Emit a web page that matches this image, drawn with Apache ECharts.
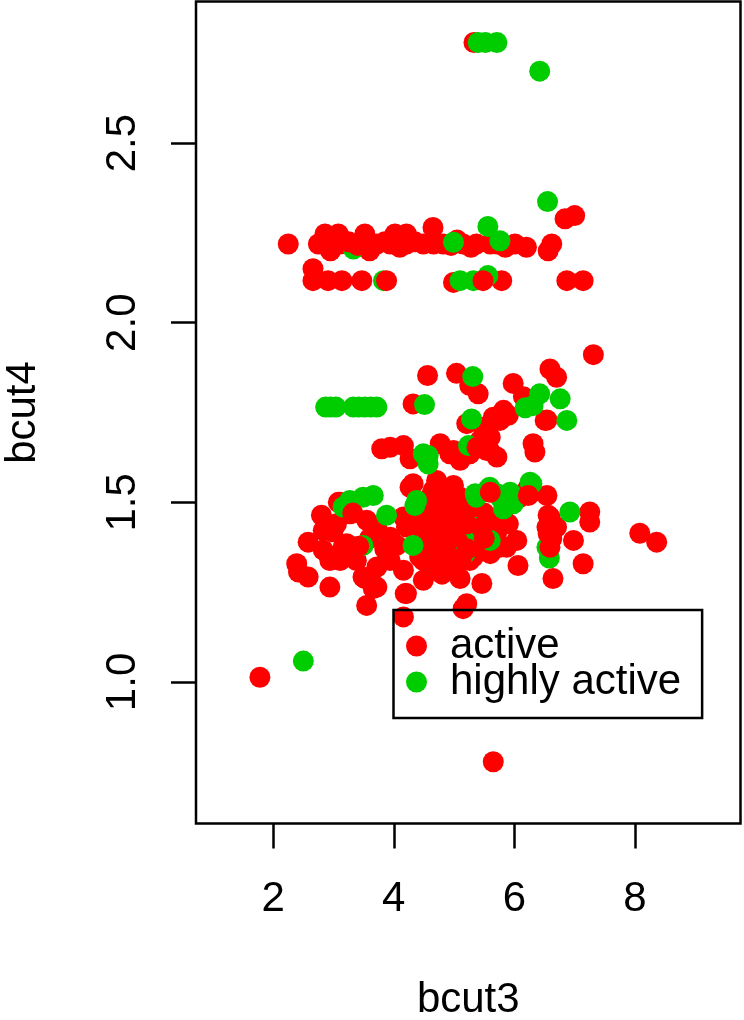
<!DOCTYPE html>
<html>
<head>
<meta charset="utf-8">
<script src="https://cdn.jsdelivr.net/npm/echarts@6/dist/echarts.min.js"></script>
<style>
html,body{margin:0;padding:0;background:#fff;}
#chart{width:744px;height:1020px;}
</style>
</head>
<body>
<div id="chart"></div>
<script>
// ---- data (bcut3, bcut4) ----
const seriesNames = ['active', 'highly active'];
const xTicks = [2, 4, 6, 8];
const yTicks = [1.0, 1.5, 2.0, 2.5];

// "active" points drawn beneath the "highly active" points
const activeLower = [
  [2.25,2.219],[2.75,2.219],[2.89,2.219],[2.86,2.247],[3.08,2.247],[3.11,2.219],[3.52,2.247],[3.55,2.219],
  [3.72,2.219],[3.94,2.219],[4.02,2.247],[4.21,2.247],[4.21,2.219],[4.49,2.219],[4.65,2.265],[4.66,2.219],
  [4.82,2.219],[5.15,2.219],[5.37,2.219],[5.60,2.219],[5.71,2.219],[6.01,2.219],[6.20,2.21],[6.56,2.20],
  [6.62,2.219],[6.84,2.289],[7.00,2.298],[3.85,2.225],[4.10,2.21],[4.35,2.225],[4.95,2.215],[5.05,2.23],
  [5.28,2.21],[5.85,2.21],[2.95,2.20],[3.60,2.20],
  [2.66,2.15],[2.66,2.117],[2.91,2.117],[3.14,2.117],[3.47,2.117],[4.99,2.112],[5.79,2.117],[6.87,2.117],[7.14,2.117],
  [5.33,2.78],
  [7.31,1.911],[4.56,1.853],[5.04,1.859],[5.26,1.825],[5.40,1.802],[5.98,1.831],[6.59,1.871],[6.70,1.848],
  [6.51,1.728],[6.26,1.774],[4.32,1.774],[5.82,1.756],[5.65,1.737],[5.48,1.709],[5.60,1.681],[5.90,1.742],
  [5.43,1.672],[5.21,1.719],[3.80,1.649],[3.94,1.653],[4.16,1.658],[4.27,1.621],[4.77,1.663],[4.93,1.635],
  [5.10,1.626],[5.26,1.635],[5.71,1.626],[5.54,1.644],[6.31,1.663],[6.34,1.64],[5.59,1.644],[5.10,1.617],
  [6.15,1.794],[6.54,1.729],[4.99,1.644],[5.76,1.728],
  [4.27,1.542],[4.32,1.552],[4.71,1.561],[4.99,1.547],[4.65,1.533],[4.93,1.533],[5.56,1.535],[6.21,1.535],
  [6.54,1.519],[6.26,1.524],[4.60,1.514],[6.09,1.514],[5.10,1.514],
  [3.11,1.50],[3.08,1.50],[2.80,1.464],[2.58,1.389],[2.39,1.329],[2.42,1.306],[2.58,1.292],[2.94,1.264],
  [2.94,1.338],[3.16,1.375],[3.49,1.292],[3.72,1.264],[3.55,1.213],[4.21,1.246],[2.83,1.422],[3.05,1.44],
  [3.27,1.468],[3.94,1.403],[3.94,1.338],[4.49,1.338],[4.82,1.375],[4.93,1.338],[3.66,1.26],[3.52,1.288],
  [3.72,1.431],[4.21,1.431],[4.16,1.311],[3.72,1.32],[3.22,1.385],[3.38,1.338],[3.11,1.338],[4.16,1.459],
  [2.99,1.418],[2.83,1.367],[3.55,1.45],[3.85,1.37],[4.05,1.38],[3.60,1.40],
  [4.16,1.181],[4.19,1.246],[4.49,1.283],[5.10,1.288],[5.46,1.274],[5.15,1.204],[5.21,1.218],[6.64,1.288],
  [6.06,1.324],[7.14,1.329],[6.98,1.394],[8.08,1.414],[8.36,1.389],[7.25,1.473],[7.25,1.445],[6.56,1.464],
  [6.70,1.431],[6.62,1.399],[6.04,1.394],[5.79,1.436],[5.87,1.375],[5.32,1.348],[5.60,1.357],
  [5.10,1.366],[6.54,1.431],[6.59,1.459],
  [4.93,1.496],[4.60,1.468],[4.82,1.431],[4.43,1.431],[4.21,1.45],[5.04,1.403],[4.71,1.375],[4.43,1.348],
  [4.99,1.348],[5.26,1.338],[5.65,1.45],[5.54,1.422],[5.76,1.375],[5.21,1.478],[4.75,1.50],
  [4.85,1.46],[4.55,1.40],[4.65,1.42],[4.95,1.42],[5.05,1.46],[5.15,1.43],[4.75,1.35],[4.60,1.32],[4.80,1.30],
  [5.00,1.31],[4.40,1.48],[5.45,1.38],[5.30,1.39],[5.20,1.36],[4.90,1.39],[4.50,1.37],[4.70,1.45],[5.50,1.47],
  [5.70,1.41],[5.90,1.44],
  [1.78,1.013],[5.65,0.778]
];

// "highly active" points
const highlyActive = [
  [5.40,2.78],[5.52,2.78],[5.71,2.78],[6.42,2.70],[6.55,2.337],[5.56,2.268],[4.99,2.224],[5.76,2.228],
  [3.33,2.205],[3.83,2.117],[5.10,2.117],[5.32,2.117],[5.56,2.131],
  [5.31,1.85],[6.42,1.802],[6.31,1.769],[6.76,1.788],[6.87,1.728],[6.18,1.763],
  [2.87,1.765],[2.95,1.765],[3.04,1.765],[3.33,1.765],[3.42,1.765],[3.52,1.765],[3.62,1.765],[3.72,1.765],
  [4.51,1.772],[5.29,1.732],[4.57,1.63],[4.57,1.607],[5.24,1.658],[4.49,1.635],
  [6.26,1.556],[5.93,1.528],[5.35,1.524],[4.38,1.505],[3.16,1.487],[3.49,1.514],[3.66,1.519],[3.88,1.464],
  [3.49,1.38],[3.27,1.505],[4.32,1.38],[5.37,1.417],[6.29,1.552],[5.93,1.496],[5.37,1.514],[5.43,1.413],
  [5.60,1.394],[4.35,1.491],[5.18,1.357],[6.58,1.345],[5.71,1.524],[5.82,1.482],[6.92,1.473],[6.54,1.375],
  [5.98,1.496],[5.76,1.514],[5.59,1.542],[5.32,1.431],
  [2.50,1.058]
];

// "active" points drawn on top of the "highly active" points
const activeUpper = [
  [3.88,2.117],[5.48,2.117],[3.25,2.225],[3.40,2.215],[3.42,1.378],[5.21,1.44],[5.45,1.43],[5.38,1.653],
  [5.60,1.528],[6.59,1.375],[6.56,1.413],[6.23,1.519],[3.32,1.47],[5.22,1.37],[5.50,1.40],[5.12,1.345]
];

const RED = '#FF0000';
const GREEN = '#00CD00';
const FONT = '"Liberation Sans", Arial, sans-serif';
const FS = 42;

const chart = echarts.init(document.getElementById('chart'), null, {renderer: 'canvas'});

function scatter(name, data, color, z) {
  return {
    name: name, type: 'scatter', data: data, symbol: 'circle', symbolSize: 21,
    itemStyle: {color: color, opacity: 1}, z: z, silent: true, emphasis: {disabled: true}
  };
}

chart.setOption({
  animation: false,
  backgroundColor: '#fff',
  grid: {left: 196, top: 1.5, width: 544.5, height: 822, show: true,
         outerBoundsMode: 'none', containLabel: false,
         borderColor: '#000', borderWidth: 2.5, backgroundColor: 'transparent'},
  xAxis: {
    type: 'value', min: 0.72, max: 9.75,
    name: 'bcut3', nameLocation: 'middle', nameGap: 156,
    nameTextStyle: {fontSize: FS, fontFamily: FONT, color: '#000'},
    axisLine: {show: false},
    splitLine: {show: false},
    axisTick: {show: true, length: 25, customValues: xTicks, lineStyle: {color: '#000', width: 2.5}},
    axisLabel: {customValues: xTicks, margin: 55, fontSize: FS, fontFamily: FONT, color: '#000',
                formatter: v => String(v)}
  },
  yAxis: {
    type: 'value', min: 0.606, max: 2.894,
    name: 'bcut4', nameLocation: 'middle', nameGap: 152, nameRotate: 90,
    nameTextStyle: {fontSize: FS, fontFamily: FONT, color: '#000'},
    axisLine: {show: false},
    splitLine: {show: false},
    axisTick: {show: true, length: 25, customValues: yTicks, lineStyle: {color: '#000', width: 2.5}},
    axisLabel: {customValues: yTicks, rotate: 90, margin: 52, fontSize: FS, fontFamily: FONT, color: '#000',
                formatter: v => Number(v).toFixed(1)}
  },
  legend: {
    data: seriesNames,
    orient: 'vertical', left: 393.5, top: 610,
    padding: [15, 21, 15, 12.5],
    itemWidth: 21, itemHeight: 21, itemGap: -6,
    icon: 'circle',
    borderColor: '#000', borderWidth: 2.5, backgroundColor: 'transparent',
    selectedMode: false,
    textStyle: {fontSize: FS, fontFamily: FONT, color: '#000', padding: [0, 0, 0, 18]},
    z: 10
  },
  series: [
    scatter(seriesNames[0], activeLower, RED, 2),
    scatter(seriesNames[1], highlyActive, GREEN, 3),
    scatter(seriesNames[0], activeUpper, RED, 4)
  ]
});
</script>
</body>
</html>
